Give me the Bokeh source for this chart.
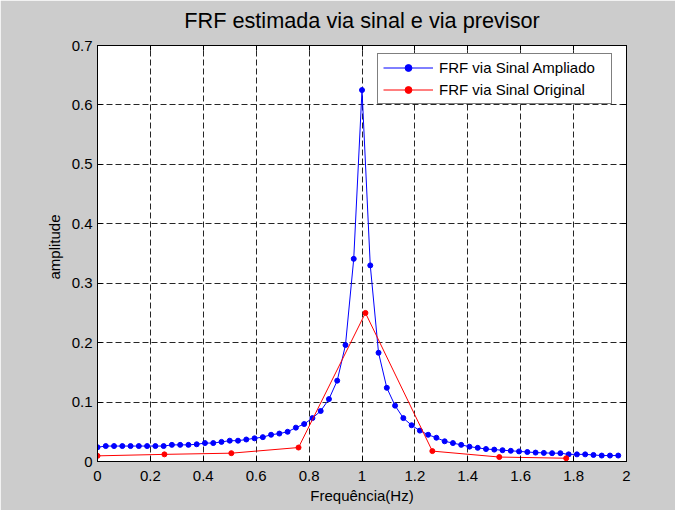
from bokeh.plotting import figure
from bokeh.models import (Range1d, FixedTicker, NumeralTickFormatter, LinearAxis, Legend,
                          LegendItem, CustomLabelingPolicy, Title)
from bokeh.embed import file_html
from bokeh.resources import INLINE

# Frequências (Hz) do sinal ampliado
freq_ampliado = [0.0, 0.03125, 0.0625, 0.09375, 0.125, 0.15625, 0.1875, 0.21875,
                 0.25, 0.28125, 0.3125, 0.34375, 0.375, 0.40625, 0.4375, 0.46875,
                 0.5, 0.53125, 0.5625, 0.59375, 0.625, 0.65625, 0.6875, 0.71875,
                 0.75, 0.78125, 0.8125, 0.84375, 0.875, 0.90625, 0.9375, 0.96875,
                 1.0, 1.03125, 1.0625, 1.09375, 1.125, 1.15625, 1.1875, 1.21875,
                 1.25, 1.28125, 1.3125, 1.34375, 1.375, 1.40625, 1.4375, 1.46875,
                 1.5, 1.53125, 1.5625, 1.59375, 1.625, 1.65625, 1.6875, 1.71875,
                 1.75, 1.78125, 1.8125, 1.84375, 1.875, 1.90625, 1.9375, 1.96875]
amp_ampliado = [0.024, 0.026, 0.026, 0.026, 0.026, 0.026, 0.026, 0.026,
                0.026, 0.028, 0.028, 0.028, 0.029, 0.031, 0.031, 0.033,
                0.035, 0.035, 0.037, 0.039, 0.041, 0.045, 0.047, 0.050,
                0.057, 0.063, 0.073, 0.085, 0.105, 0.136, 0.196, 0.341,
                0.625, 0.330, 0.183, 0.124, 0.094, 0.073, 0.061, 0.052,
                0.045, 0.040, 0.034, 0.031, 0.028, 0.025, 0.023, 0.021,
                0.020, 0.019, 0.018, 0.017, 0.016, 0.015, 0.0145, 0.014,
                0.014, 0.012, 0.012, 0.012, 0.011, 0.010, 0.010, 0.010]

# Frequências (Hz) do sinal original
freq_original = [0.0, 0.253, 0.506, 0.760, 1.013, 1.266, 1.519, 1.772]
amp_original = [0.0095, 0.012, 0.014, 0.0235, 0.250, 0.0175, 0.0075, 0.0055]

x_ticks = [0, 0.2, 0.4, 0.6, 0.8, 1.0, 1.2, 1.4, 1.6, 1.8, 2.0]
y_ticks = [0, 0.1, 0.2, 0.3, 0.4, 0.5, 0.6, 0.7]

FONT = "Liberation Sans"

p = figure(width=675, height=510, output_backend="svg", toolbar_location=None,
           x_range=Range1d(0, 2), y_range=Range1d(0, 0.7),
           min_border_left=97, min_border_right=49, min_border_top=45, min_border_bottom=49,
           title="FRF estimada via sinal e via previsor")
p.background_fill_color = "white"
p.border_fill_color = "#cccccc"
p.outline_line_color = "black"
p.outline_line_width = 1

p.title.text_font = FONT
p.title.text_font_size = "21.7px"
p.title.text_font_style = "normal"
p.title.text_color = "black"
p.title.align = "center"
p.title.standoff = 4

fmt = NumeralTickFormatter(format="0.[0]")
for ax, ticks in ((p.xaxis[0], x_ticks), (p.yaxis[0], y_ticks)):
    ax.ticker = FixedTicker(ticks=ticks)
    ax.formatter = fmt
    ax.major_tick_in = 5
    ax.major_tick_out = 0
    ax.minor_tick_line_color = None
    ax.axis_line_color = "black"
    ax.major_tick_line_color = "black"
    ax.major_label_text_font = FONT
    ax.major_label_text_font_size = "15px"
    ax.major_label_text_color = "black"
    ax.axis_label_text_font = FONT
    ax.axis_label_text_font_size = "15px"
    ax.axis_label_text_font_style = "normal"
    ax.axis_label_text_color = "black"

p.xaxis.axis_label = "Frequência(Hz)"
p.xaxis.major_label_standoff = 9
p.xaxis.axis_label_standoff = 3
p.yaxis.major_label_standoff = 5

# y-axis label as a side title, slightly above the frame centre like the original
p.add_layout(Title(text="amplitude", align="left", offset=182, standoff=12,
                   text_font=FONT, text_font_size="15px", text_font_style="normal",
                   text_color="black"), "left")

no_labels = CustomLabelingPolicy(code="for (const i of indices) indices.unset(i); return indices")
for ticks, loc in ((x_ticks, "above"), (y_ticks, "right")):
    ax = LinearAxis(ticker=FixedTicker(ticks=ticks), major_label_policy=no_labels,
                    major_tick_in=5, major_tick_out=0, minor_tick_line_color=None,
                    major_label_standoff=0, axis_line_color="black",
                    major_tick_line_color="black")
    p.add_layout(ax, loc)

p.xgrid.ticker = FixedTicker(ticks=x_ticks)
p.ygrid.ticker = FixedTicker(ticks=y_ticks)
for g in (p.xgrid[0], p.ygrid[0]):
    g.grid_line_color = "black"
    g.grid_line_dash = "6 3"
    g.grid_line_width = 1
    g.grid_line_alpha = 0.85

bl = p.line(freq_ampliado, amp_ampliado, line_color="#0000ff", line_width=1)
bs = p.scatter(freq_ampliado, amp_ampliado, size=5, fill_color="#0000ff", line_color="#0000ff")
rl = p.line(freq_original, amp_original, line_color="#ff0000", line_width=1)
rs = p.scatter(freq_original, amp_original, size=5, fill_color="#ff0000", line_color="#ff0000")

legend = Legend(items=[LegendItem(label="FRF via Sinal Ampliado", renderers=[bl, bs]),
                       LegendItem(label="FRF via Sinal Original", renderers=[rl, rs])],
                location=(280, 357))
legend.label_text_font = FONT
legend.label_text_font_size = "15px"
legend.label_text_color = "black"
legend.border_line_color = "black"
legend.border_line_width = 1
legend.background_fill_color = "white"
legend.background_fill_alpha = 1
legend.padding = 5
legend.spacing = 5
legend.label_height = 17
legend.glyph_height = 17
legend.glyph_width = 50
legend.label_standoff = 6
legend.label_width = 167
legend.margin = 0
p.add_layout(legend, "center")

open("out.html", "w").write(file_html(p, INLINE))
